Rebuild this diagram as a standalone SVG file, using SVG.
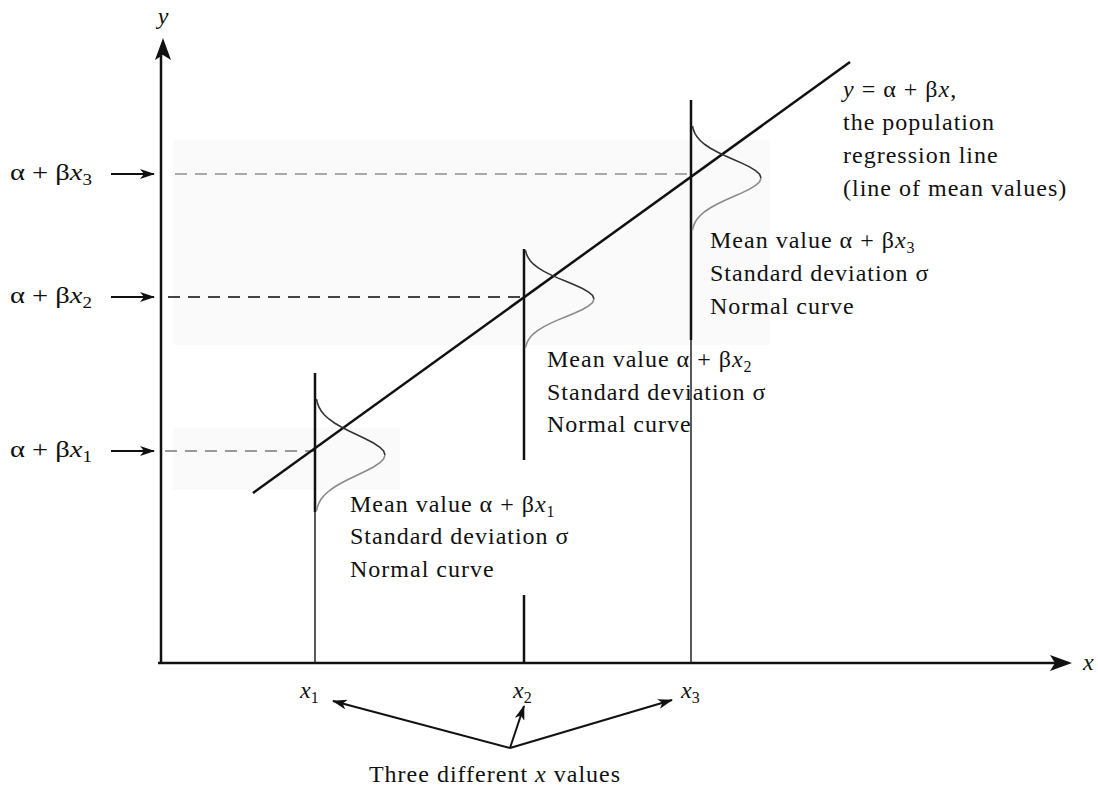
<svg xmlns="http://www.w3.org/2000/svg" width="1098" height="788" viewBox="0 0 1098 788">
<style>
  text { font-family: "Liberation Serif", "Times New Roman", serif; fill: #111; font-size: 24px; letter-spacing: 1px; }
  .it { font-style: italic; }
  .sub { font-size: 16px; }
  .lbl { letter-spacing: 0; }
  .ax { stroke: #111; stroke-width: 2.5; fill: none; }
  .thin { stroke: #222; stroke-width: 1.5; fill: none; }
  .thick { stroke: #111; stroke-width: 2.5; fill: none; }
  .dash { stroke-width: 2; stroke-dasharray: 12 8; fill: none; }
  .ptr { stroke: #111; stroke-width: 2; fill: none; }
  .shade { fill: #fafafa; }
  .cu { stroke: #333; stroke-width: 1.6; fill: none; }
  .cl { stroke: #8a8a8a; stroke-width: 1.6; fill: none; }
</style>
<defs>
  <marker id="ah" markerWidth="16" markerHeight="10" refX="14" refY="5" orient="auto" markerUnits="userSpaceOnUse">
    <path d="M0,0 L15,5 L0,10 L4,5 z" fill="#111"/>
  </marker>
  <g id="curveU">
    <path d="M1.4,-56 L2.4,-52 L3.9,-48 L6.2,-44 L9.5,-40 L13.9,-36 L19.5,-32 L26.3,-28 L34.1,-24 L42.5,-20 L50.8,-16 L58.5,-12 L64.6,-8 L68.6,-4 L70,0" class="cu" vector-effect="non-scaling-stroke"/>
  </g>
  <g id="curveL">
    <path d="M70,0 L68.6,4 L64.6,8 L58.5,12 L50.8,16 L42.5,20 L34.1,24 L26.3,28 L19.5,32 L13.9,36 L9.5,40 L6.2,44 L3.9,48 L2.4,52 L1.4,56" class="cl" vector-effect="non-scaling-stroke"/>
  </g>
</defs>

<g id="background">
  <rect class="shade" x="173" y="140" width="597" height="205"/>
  <rect class="shade" x="173" y="428" width="227" height="62"/>
</g>

<g id="axes">
  <line class="ax" x1="161" y1="663" x2="161" y2="56"/>
  <path d="M163,38 L171,60 L163,55 L155,60 z" fill="#111"/>
  <line class="ax" x1="158" y1="663" x2="1055" y2="663"/>
  <path d="M1072,663 L1050,655 L1055,663 L1050,671 z" fill="#111"/>
  <text class="it lbl" x="163" y="24" text-anchor="middle" font-size="20">y</text>
  <text class="it lbl" x="1083" y="670">x</text>
</g>

<g id="connectors">
  <line class="dash" stroke="#aaa" x1="175" y1="174" x2="692" y2="174"/>
  <line class="dash" stroke="#444" x1="168" y1="297" x2="524" y2="297"/>
  <line class="dash" stroke="#999" x1="165" y1="451" x2="315" y2="451"/>
  <line class="ptr" x1="111" y1="174" x2="154" y2="174" marker-end="url(#ah)"/>
  <line class="ptr" x1="111" y1="297" x2="154" y2="297" marker-end="url(#ah)"/>
  <line class="ptr" x1="111" y1="451" x2="154" y2="451" marker-end="url(#ah)"/>
  <line class="ptr" x1="510" y1="748" x2="333" y2="701" marker-end="url(#ah)"/>
  <line class="ptr" x1="510" y1="748" x2="524" y2="706" marker-end="url(#ah)"/>
  <line class="ptr" x1="510" y1="748" x2="672" y2="700" marker-end="url(#ah)"/>
</g>

<g id="regression-line">
  <line class="thick" x1="253" y1="493" x2="850" y2="62"/>
  <text x="843" y="97"><tspan class="it">y</tspan> = α + β<tspan class="it">x</tspan>,</text>
  <text x="843" y="130">the population</text>
  <text x="843" y="163">regression line</text>
  <text x="843" y="196">(line of mean values)</text>
</g>

<g id="x1-node">
  <line class="thick" x1="315" y1="373" x2="315" y2="512"/>
  <line class="thin" x1="315" y1="512" x2="315" y2="663"/>
  <use href="#curveU" transform="translate(315,455)"/>
  <use href="#curveL" transform="translate(315,455)"/>
  <text x="350" y="512">Mean value α + β<tspan class="it">x</tspan><tspan class="sub" dy="5">1</tspan></text>
  <text x="350" y="544">Standard deviation σ</text>
  <text x="350" y="577">Normal curve</text>
</g>

<g id="x2-node">
  <line class="thick" x1="524" y1="249" x2="524" y2="460"/>
  <line class="thick" x1="524" y1="595" x2="524" y2="663"/>
  <use href="#curveU" transform="translate(524,299) scale(1,0.87)"/>
  <use href="#curveL" transform="translate(524,299) scale(1,0.87)"/>
  <text x="547" y="367">Mean value α + β<tspan class="it">x</tspan><tspan class="sub" dy="5">2</tspan></text>
  <text x="547" y="400">Standard deviation σ</text>
  <text x="547" y="432">Normal curve</text>
</g>

<g id="x3-node">
  <line class="thick" x1="691" y1="100" x2="691" y2="340"/>
  <line class="thin" x1="691" y1="340" x2="691" y2="663"/>
  <use href="#curveU" transform="translate(691,178) scale(1,0.93)"/>
  <use href="#curveL" transform="translate(691,178) scale(1,0.93)"/>
  <text x="710" y="248">Mean value α + β<tspan class="it">x</tspan><tspan class="sub" dy="5">3</tspan></text>
  <text x="710" y="281">Standard deviation σ</text>
  <text x="710" y="314">Normal curve</text>
</g>

<g id="y-labels">
  <text class="lbl" x="10" y="180" textLength="82" lengthAdjust="spacingAndGlyphs">α + β<tspan class="it">x</tspan><tspan class="sub" dy="5">3</tspan></text>
  <text class="lbl" x="10" y="303" textLength="82" lengthAdjust="spacingAndGlyphs">α + β<tspan class="it">x</tspan><tspan class="sub" dy="5">2</tspan></text>
  <text class="lbl" x="10" y="457" textLength="82" lengthAdjust="spacingAndGlyphs">α + β<tspan class="it">x</tspan><tspan class="sub" dy="5">1</tspan></text>
</g>

<g id="x-labels">
  <text class="lbl" x="300" y="698"><tspan class="it">x</tspan><tspan class="sub" dy="5">1</tspan></text>
  <text class="lbl" x="513" y="698"><tspan class="it">x</tspan><tspan class="sub" dy="5">2</tspan></text>
  <text class="lbl" x="681" y="698"><tspan class="it">x</tspan><tspan class="sub" dy="5">3</tspan></text>
  <text x="495" y="782" text-anchor="middle">Three different <tspan class="it">x</tspan> values</text>
</g>
</svg>
